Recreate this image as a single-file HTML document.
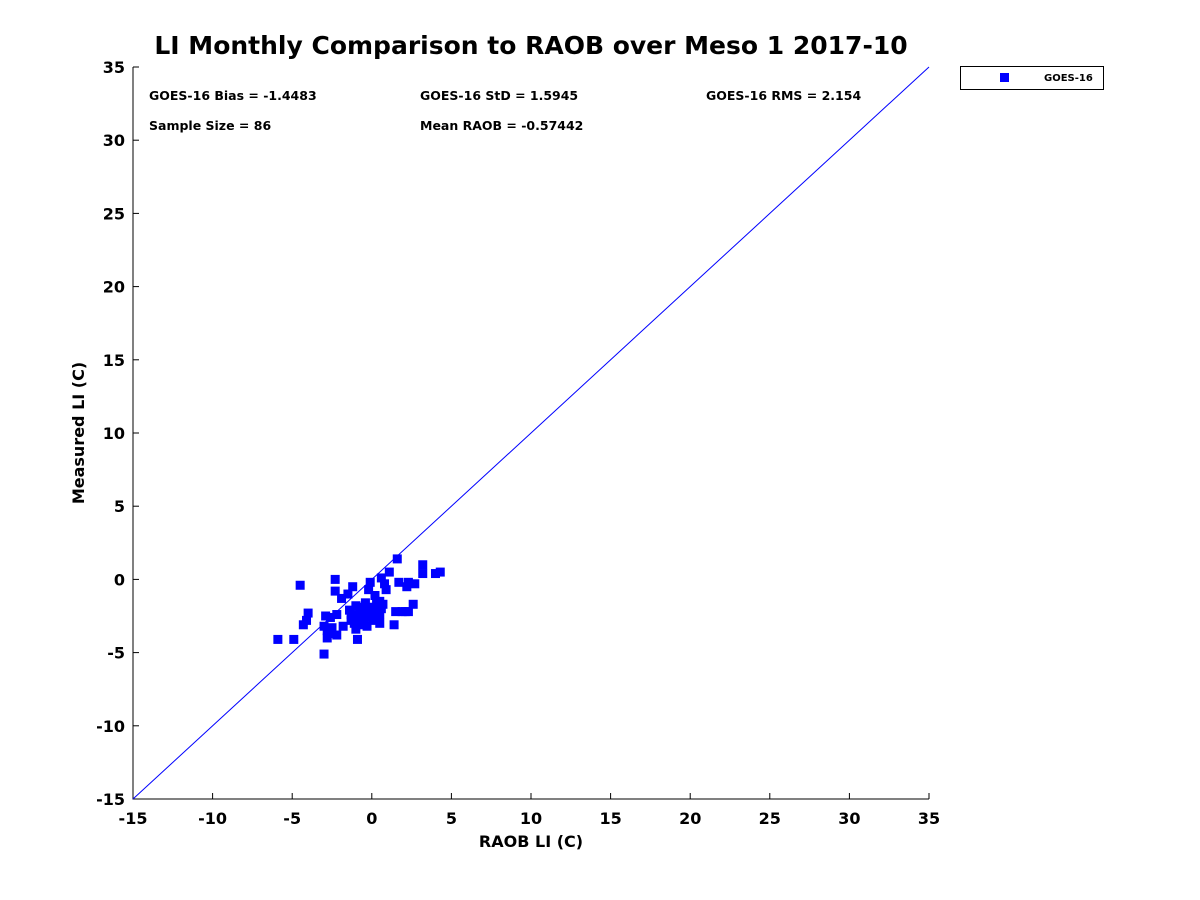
<!DOCTYPE html>
<html><head><meta charset="utf-8"><style>
body{margin:0;background:#fff;}
svg{display:block;font-family:"DejaVu Sans","Liberation Sans",sans-serif;}
</style></head><body>
<svg id="chart" width="1200" height="900" viewBox="0 0 1200 900">
<rect width="1200" height="900" fill="#fff"/>
<text x="531" y="54" text-anchor="middle" font-size="25" font-weight="bold" fill="#000">LI Monthly Comparison to RAOB over Meso 1 2017-10</text>
<g id="axes"></g>
<g id="marks"></g>
<g font-size="12.5" font-weight="bold" fill="#000">
<text x="149" y="100">GOES-16 Bias = -1.4483</text>
<text x="420" y="100">GOES-16 StD = 1.5945</text>
<text x="706" y="100">GOES-16 RMS = 2.154</text>
<text x="149" y="130">Sample Size = 86</text>
<text x="420" y="130">Mean RAOB = -0.57442</text>
</g>
<g>
<rect x="960.5" y="66.5" width="143" height="23" fill="#fff" stroke="#000"/>
<rect x="1000" y="73" width="9" height="9" fill="#0000ff"/>
<text x="1044" y="81" font-size="10" font-weight="bold">GOES-16</text>
</g>
<text x="531" y="847" text-anchor="middle" font-size="16" font-weight="bold">RAOB LI (C)</text>
<text transform="translate(84,433) rotate(-90)" text-anchor="middle" font-size="16" font-weight="bold">Measured LI (C)</text>
</svg>
<script>
const ticks = [-15,-10,-5,0,5,10,15,20,25,30,35];
const raobX = [-5.9,-4.9,-4.5,-4.3,-4.1,-4.0,-3.0,-3.0,-2.9,-2.8,-2.8,-2.6,-2.6,-2.5,-2.3,-2.3,-2.2,-2.2,-1.9,-1.8,-1.5,-1.4,-1.3,-1.2,-1.1,-1.0,-1.0,-0.9,-0.8,-0.7,-0.6,-0.5,-0.4,-0.3,-0.3,-0.2,-0.1,-0.1,0.0,0.1,0.1,0.2,0.3,0.4,0.5,0.5,0.5,0.6,0.6,0.7,0.8,0.9,1.1,1.4,1.5,1.6,1.7,1.9,2.1,2.2,2.3,2.3,2.6,2.7,3.2,3.2,4.0,4.3,0.2,-0.7,0.0,-1.3,-0.5,0.4];
const measY = [-4.1,-4.1,-0.4,-3.1,-2.8,-2.3,-5.1,-3.2,-2.5,-4.0,-3.5,-3.7,-2.6,-3.3,0.0,-0.8,-2.4,-3.8,-1.3,-3.2,-1.0,-2.1,-2.4,-0.5,-3.0,-3.4,-1.8,-4.1,-2.4,-2.0,-3.1,-2.7,-1.6,-2.2,-3.2,-0.7,-0.2,-2.5,-1.9,-2.8,-2.2,-2.0,-1.7,-2.7,-2.4,-1.5,-3.0,-2.0,0.1,-1.7,-0.3,-0.7,0.5,-3.1,-2.2,1.4,-0.2,-2.2,-2.2,-0.5,-0.2,-2.2,-1.7,-0.3,1.0,0.4,0.4,0.5,-1.1,-2.9,-2.6,-2.8,-1.9,-2.3];
const NS='http://www.w3.org/2000/svg';
const X0=133,X1=929,Y0=799,Y1=67;
const xs=v=>X0+(v+15)/50*(X1-X0);
const ys=v=>Y0-(v+15)/50*(Y0-Y1);
function mk(t,a,p){const e=document.createElementNS(NS,t);for(const k in a)e.setAttribute(k,a[k]);p.appendChild(e);return e;}
const ax=document.getElementById('axes');
const frame=mk('path',{d:`M${X0} ${Y1}V${Y0}H${X1}`,fill:'none',stroke:'#000','stroke-width':1},ax);


ticks.forEach(t=>{
  const xt=mk('line',{x1:xs(t),x2:xs(t),y1:Y0,y2:Y0-6,stroke:'#000'},ax);
  
  
  const xl=mk('text',{x:xs(t),y:Y0+25,'text-anchor':'middle','font-size':16,'font-weight':'bold'},ax);
  xl.textContent=t;
  
  
  const yt=mk('line',{x1:X0,x2:X0+6,y1:ys(t),y2:ys(t),stroke:'#000'},ax);
  
  
  const yl=mk('text',{x:X0-8,y:ys(t)+6,'text-anchor':'end','font-size':16,'font-weight':'bold'},ax);
  yl.textContent=t;
  
  
});
const mg=document.getElementById('marks');
const ref=mk('line',{x1:xs(-15),y1:ys(-15),x2:xs(35),y2:ys(35),stroke:'#0000ff','stroke-width':1},mg);


raobX.forEach((v,i)=>{
  const r=mk('rect',{x:xs(v)-4.5,y:ys(measY[i])-4.5,width:9,height:9,fill:'#0000ff'},mg);
  
  
});
</script>
</body></html>
